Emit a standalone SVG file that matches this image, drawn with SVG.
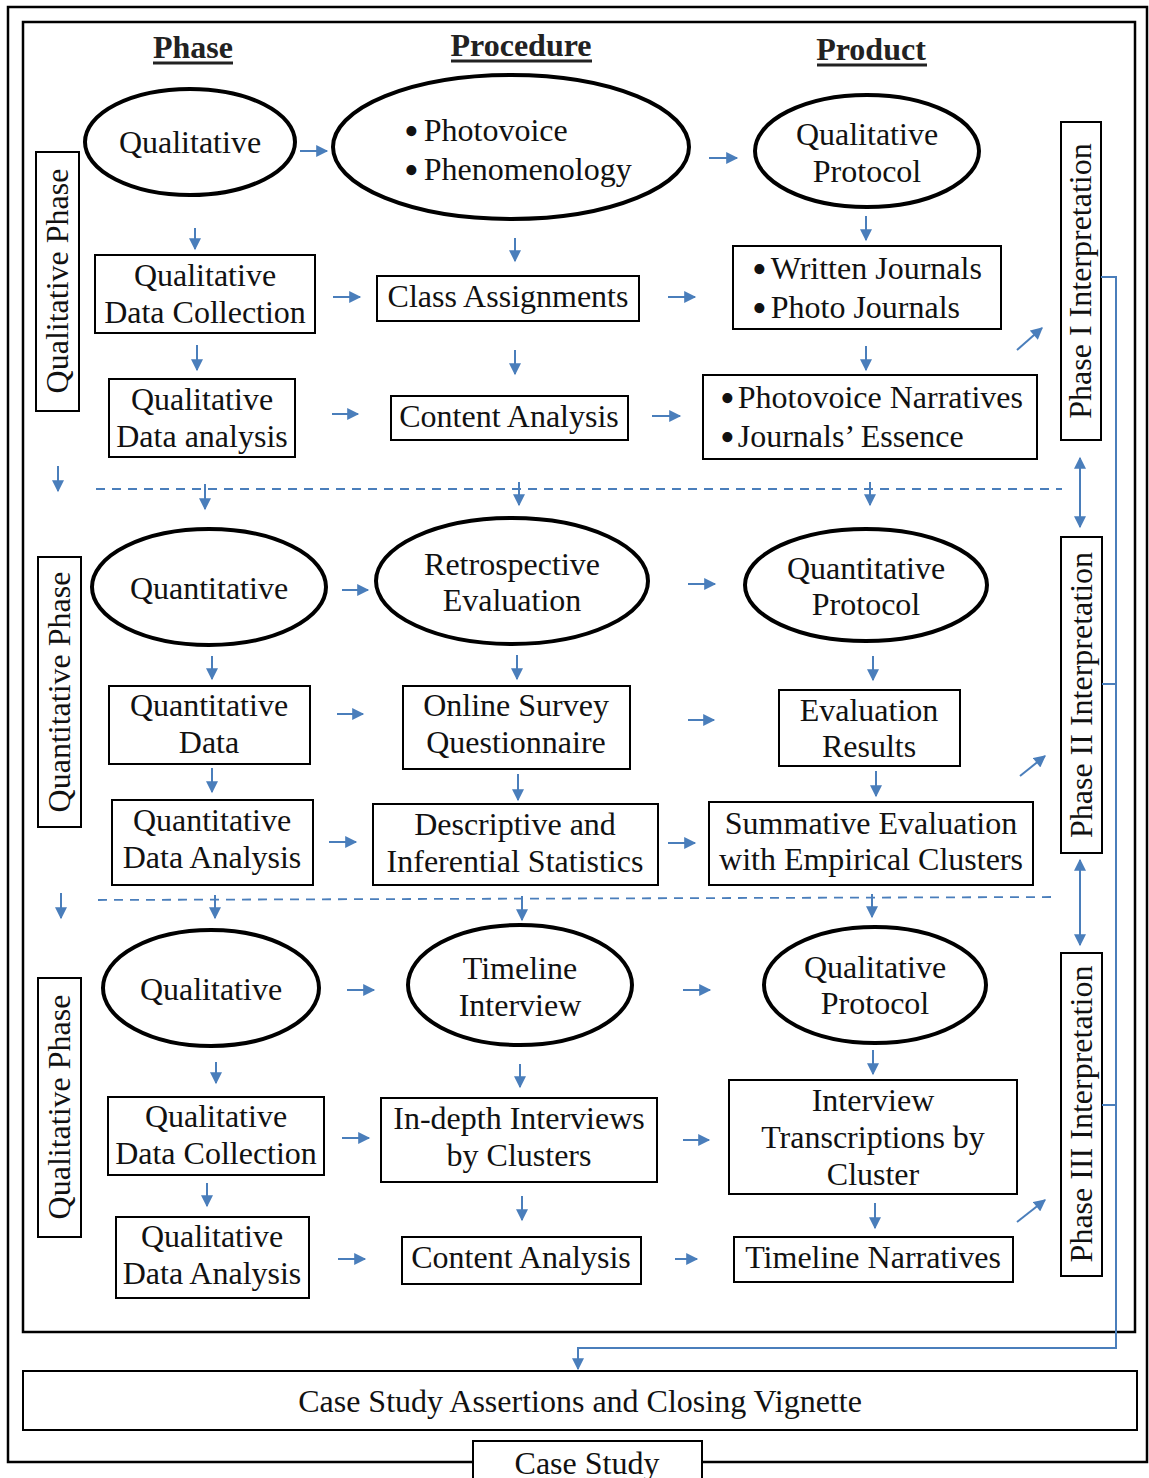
<svg xmlns="http://www.w3.org/2000/svg" width="1149" height="1478" viewBox="0 0 1149 1478">
  <style>
    text { font-family: "Liberation Serif", "Times New Roman", serif; font-size: 32px; fill: #111; }
    .c { text-anchor: middle; }
    .h { font-weight: bold; fill: #222; }
    .b { font-size: 42px; }
    .ell { fill: none; stroke: #000; stroke-width: 4; }
    .box { fill: none; stroke: #000; stroke-width: 2; }
    .frame { fill: none; stroke: #000; stroke-width: 2.5; }
    .a { stroke: #4a7ebb; stroke-width: 2; fill: none; marker-end: url(#ah); }
    .d { stroke: #4a7ebb; stroke-width: 2; fill: none; marker-start: url(#ah); marker-end: url(#ah); }
    .dash { stroke: #4a7ebb; stroke-width: 1.8; stroke-dasharray: 9 7; fill: none; }
    .link { stroke: #4a7ebb; stroke-width: 2; fill: none; }
    .ul { stroke: #222; stroke-width: 3; }
  </style>
  <defs>
    <marker id="ah" viewBox="0 0 10 10" refX="9" refY="5" markerWidth="13" markerHeight="12" markerUnits="userSpaceOnUse" orient="auto-start-reverse">
      <path d="M0,0 L10,5 L0,10 z" fill="#4a7ebb"/>
    </marker>
  </defs>

  <rect width="1149" height="1478" fill="#fff"/>

  <!-- outer frame with case study tab -->
  <g id="case-study-frame">
    <path class="frame" d="M473,1462 H8 V7 H1147 V1462 H702"/>
    <path class="box" d="M473,1480 V1441 H702 V1480"/>
    <text class="c" x="587" y="1474" fill="#222">Case Study</text>
  </g>

  <!-- inner frame -->
  <rect id="inner-frame" class="frame" x="23" y="22" width="1112" height="1310"/>

  <!-- column headers -->
  <g id="headers">
    <text class="c h" x="193" y="58">Phase</text>
    <line class="ul" x1="153" y1="63" x2="233" y2="63"/>
    <text class="c h" x="521" y="56">Procedure</text>
    <line class="ul" x1="451" y1="61" x2="592" y2="61"/>
    <text class="c h" x="871" y="60">Product</text>
    <line class="ul" x1="817" y1="65" x2="927" y2="65"/>
  </g>

  <!-- phase side labels -->
  <g id="label-qual-1">
    <rect class="box" x="36" y="152" width="43" height="259"/>
    <text class="c" transform="translate(68,281) rotate(-90)">Qualitative Phase</text>
  </g>
  <g id="label-quant">
    <rect class="box" x="38" y="557" width="43" height="270"/>
    <text class="c" transform="translate(70,692) rotate(-90)">Quantitative Phase</text>
  </g>
  <g id="label-qual-2">
    <rect class="box" x="38" y="978" width="43" height="259"/>
    <text class="c" transform="translate(70,1107) rotate(-90)">Qualitative Phase</text>
  </g>

  <!-- interpretation labels -->
  <g id="interp-1">
    <rect class="box" x="1061" y="122" width="40" height="318"/>
    <text class="c" transform="translate(1091,281) rotate(-90)">Phase I Interpretation</text>
  </g>
  <g id="interp-2">
    <rect class="box" x="1061" y="537" width="41" height="316"/>
    <text class="c" transform="translate(1092,695) rotate(-90)">Phase II Interpretation</text>
  </g>
  <g id="interp-3">
    <rect class="box" x="1061" y="953" width="41" height="323"/>
    <text class="c" transform="translate(1092,1114) rotate(-90)">Phase III Interpretation</text>
  </g>

  <!-- section 1: qualitative -->
  <g id="n-qual-1">
    <ellipse class="ell" cx="190" cy="142" rx="105" ry="53"/>
    <text class="c" x="190" y="153">Qualitative</text>
  </g>
  <g id="n-photovoice">
    <ellipse class="ell" cx="511" cy="147" rx="178" ry="72"/>
    <text x="404" y="141"><tspan class="b" dy="4">•</tspan><tspan dx="5" dy="-4">Photovoice</tspan></text>
    <text x="404" y="180"><tspan class="b" dy="4">•</tspan><tspan dx="5" dy="-4">Phenomenology</tspan></text>
  </g>
  <g id="n-qual-protocol-1">
    <ellipse class="ell" cx="867" cy="151" rx="112" ry="56"/>
    <text class="c" x="867" y="145">Qualitative</text>
    <text class="c" x="867" y="182">Protocol</text>
  </g>
  <g id="n-qual-collect-1">
    <rect class="box" x="95" y="255" width="220" height="78"/>
    <text class="c" x="205" y="286">Qualitative</text>
    <text class="c" x="205" y="323">Data Collection</text>
  </g>
  <g id="n-class-assign">
    <rect class="box" x="377" y="276" width="262" height="45"/>
    <text class="c" x="508" y="307">Class Assignments</text>
  </g>
  <g id="n-journals">
    <rect class="box" x="733" y="246" width="268" height="83"/>
    <text x="752" y="279"><tspan class="b" dy="4">•</tspan><tspan dx="4" dy="-4">Written Journals</tspan></text>
    <text x="752" y="318"><tspan class="b" dy="4">•</tspan><tspan dx="4" dy="-4">Photo Journals</tspan></text>
  </g>
  <g id="n-qual-analysis-1">
    <rect class="box" x="109" y="379" width="186" height="78"/>
    <text class="c" x="202" y="410">Qualitative</text>
    <text class="c" x="202" y="447">Data analysis</text>
  </g>
  <g id="n-content-1">
    <rect class="box" x="391" y="396" width="237" height="44"/>
    <text class="c" x="509" y="427">Content Analysis</text>
  </g>
  <g id="n-narratives-1">
    <rect class="box" x="703" y="375" width="334" height="84"/>
    <text x="720" y="408"><tspan class="b" dy="4">•</tspan><tspan dx="3" dy="-4">Photovoice Narratives</tspan></text>
    <text x="720" y="447"><tspan class="b" dy="4">•</tspan><tspan dx="3" dy="-4">Journals’ Essence</tspan></text>
  </g>

  <!-- section 2: quantitative -->
  <g id="n-quant">
    <ellipse class="ell" cx="209" cy="587" rx="117" ry="58"/>
    <text class="c" x="209" y="599">Quantitative</text>
  </g>
  <g id="n-retro">
    <ellipse class="ell" cx="512" cy="581" rx="136" ry="63"/>
    <text class="c" x="512" y="575">Retrospective</text>
    <text class="c" x="512" y="611">Evaluation</text>
  </g>
  <g id="n-quant-protocol">
    <ellipse class="ell" cx="866" cy="585" rx="121" ry="56"/>
    <text class="c" x="866" y="579">Quantitative</text>
    <text class="c" x="866" y="615">Protocol</text>
  </g>
  <g id="n-quant-data">
    <rect class="box" x="109" y="686" width="201" height="78"/>
    <text class="c" x="209" y="716">Quantitative</text>
    <text class="c" x="209" y="753">Data</text>
  </g>
  <g id="n-survey">
    <rect class="box" x="403" y="686" width="227" height="83"/>
    <text class="c" x="516" y="716">Online Survey</text>
    <text class="c" x="516" y="753">Questionnaire</text>
  </g>
  <g id="n-eval-results">
    <rect class="box" x="779" y="690" width="181" height="76"/>
    <text class="c" x="869" y="721">Evaluation</text>
    <text class="c" x="869" y="757">Results</text>
  </g>
  <g id="n-quant-analysis">
    <rect class="box" x="112" y="800" width="201" height="85"/>
    <text class="c" x="212" y="831">Quantitative</text>
    <text class="c" x="212" y="868">Data Analysis</text>
  </g>
  <g id="n-stats">
    <rect class="box" x="373" y="804" width="285" height="81"/>
    <text class="c" x="515" y="835">Descriptive and</text>
    <text class="c" x="515" y="872">Inferential Statistics</text>
  </g>
  <g id="n-summative">
    <rect class="box" x="709" y="802" width="324" height="83"/>
    <text class="c" x="871" y="834">Summative Evaluation</text>
    <text class="c" x="871" y="870">with Empirical Clusters</text>
  </g>

  <!-- section 3: qualitative -->
  <g id="n-qual-2">
    <ellipse class="ell" cx="211" cy="988" rx="108" ry="58"/>
    <text class="c" x="211" y="1000">Qualitative</text>
  </g>
  <g id="n-timeline-interview">
    <ellipse class="ell" cx="520" cy="985" rx="112" ry="60"/>
    <text class="c" x="520" y="979">Timeline</text>
    <text class="c" x="520" y="1016">Interview</text>
  </g>
  <g id="n-qual-protocol-2">
    <ellipse class="ell" cx="875" cy="985" rx="111" ry="58"/>
    <text class="c" x="875" y="978">Qualitative</text>
    <text class="c" x="875" y="1014">Protocol</text>
  </g>
  <g id="n-qual-collect-2">
    <rect class="box" x="108" y="1097" width="216" height="78"/>
    <text class="c" x="216" y="1127">Qualitative</text>
    <text class="c" x="216" y="1164">Data Collection</text>
  </g>
  <g id="n-indepth">
    <rect class="box" x="381" y="1098" width="276" height="84"/>
    <text class="c" x="519" y="1129">In-depth Interviews</text>
    <text class="c" x="519" y="1166">by Clusters</text>
  </g>
  <g id="n-transcriptions">
    <rect class="box" x="729" y="1080" width="288" height="114"/>
    <text class="c" x="873" y="1111">Interview</text>
    <text class="c" x="873" y="1148">Transcriptions by</text>
    <text class="c" x="873" y="1185">Cluster</text>
  </g>
  <g id="n-qual-analysis-2">
    <rect class="box" x="116" y="1217" width="193" height="81"/>
    <text class="c" x="212" y="1247">Qualitative</text>
    <text class="c" x="212" y="1284">Data Analysis</text>
  </g>
  <g id="n-content-2">
    <rect class="box" x="402" y="1237" width="239" height="47"/>
    <text class="c" x="521" y="1268">Content Analysis</text>
  </g>
  <g id="n-timeline-narratives">
    <rect class="box" x="734" y="1237" width="279" height="45"/>
    <text class="c" x="873" y="1268">Timeline Narratives</text>
  </g>

  <!-- closing box -->
  <g id="n-assertions">
    <rect class="box" x="23" y="1371" width="1114" height="59"/>
    <text class="c" x="580" y="1412" fill="#333">Case Study Assertions and Closing Vignette</text>
  </g>

  <!-- connectors -->
  <g id="connectors">
    <!-- section dividers -->
    <line class="dash" x1="96" y1="489" x2="1062" y2="489"/>
    <line class="dash" x1="98" y1="900" x2="1057" y2="897"/>

    <!-- horizontal flow -->
    <line class="a" x1="300" y1="151" x2="327" y2="151"/>
    <line class="a" x1="709" y1="158" x2="737" y2="158"/>
    <line class="a" x1="333" y1="297" x2="360" y2="297"/>
    <line class="a" x1="668" y1="297" x2="695" y2="297"/>
    <line class="a" x1="332" y1="414" x2="358" y2="414"/>
    <line class="a" x1="652" y1="416" x2="680" y2="416"/>
    <line class="a" x1="342" y1="590" x2="368" y2="590"/>
    <line class="a" x1="688" y1="584" x2="715" y2="584"/>
    <line class="a" x1="337" y1="714" x2="363" y2="714"/>
    <line class="a" x1="688" y1="720" x2="714" y2="720"/>
    <line class="a" x1="329" y1="842" x2="356" y2="842"/>
    <line class="a" x1="668" y1="843" x2="695" y2="843"/>
    <line class="a" x1="347" y1="990" x2="374" y2="990"/>
    <line class="a" x1="683" y1="990" x2="710" y2="990"/>
    <line class="a" x1="342" y1="1138" x2="369" y2="1138"/>
    <line class="a" x1="683" y1="1140" x2="709" y2="1140"/>
    <line class="a" x1="338" y1="1259" x2="365" y2="1259"/>
    <line class="a" x1="675" y1="1259" x2="697" y2="1259"/>

    <!-- vertical flow -->
    <line class="a" x1="195" y1="228" x2="195" y2="249"/>
    <line class="a" x1="515" y1="238" x2="515" y2="261"/>
    <line class="a" x1="866" y1="216" x2="866" y2="240"/>
    <line class="a" x1="197" y1="345" x2="197" y2="370"/>
    <line class="a" x1="515" y1="350" x2="515" y2="374"/>
    <line class="a" x1="866" y1="346" x2="866" y2="370"/>
    <line class="a" x1="58" y1="466" x2="58" y2="491"/>
    <line class="a" x1="205" y1="484" x2="205" y2="509"/>
    <line class="a" x1="519" y1="482" x2="519" y2="505"/>
    <line class="a" x1="870" y1="482" x2="870" y2="505"/>
    <line class="a" x1="212" y1="656" x2="212" y2="679"/>
    <line class="a" x1="517" y1="655" x2="517" y2="679"/>
    <line class="a" x1="873" y1="656" x2="873" y2="680"/>
    <line class="a" x1="212" y1="768" x2="212" y2="792"/>
    <line class="a" x1="518" y1="774" x2="518" y2="800"/>
    <line class="a" x1="876" y1="771" x2="876" y2="796"/>
    <line class="a" x1="61" y1="893" x2="61" y2="918"/>
    <line class="a" x1="215" y1="895" x2="215" y2="918"/>
    <line class="a" x1="522" y1="896" x2="522" y2="920"/>
    <line class="a" x1="872" y1="894" x2="872" y2="917"/>
    <line class="a" x1="216" y1="1062" x2="216" y2="1083"/>
    <line class="a" x1="520" y1="1064" x2="520" y2="1087"/>
    <line class="a" x1="873" y1="1050" x2="873" y2="1074"/>
    <line class="a" x1="207" y1="1183" x2="207" y2="1206"/>
    <line class="a" x1="522" y1="1196" x2="522" y2="1220"/>
    <line class="a" x1="875" y1="1203" x2="875" y2="1228"/>

    <!-- products to interpretation -->
    <line class="a" x1="1017" y1="350" x2="1042" y2="328"/>
    <line class="a" x1="1020" y1="776" x2="1045" y2="756"/>
    <line class="a" x1="1017" y1="1222" x2="1045" y2="1200"/>

    <!-- between interpretations -->
    <line class="d" x1="1080" y1="458" x2="1080" y2="527"/>
    <line class="d" x1="1080" y1="860" x2="1080" y2="945"/>

    <!-- interpretations to assertions -->
    <path class="link" d="M1101,277 H1116 V1348 H578 V1360"/>
    <line class="a" x1="578" y1="1356" x2="578" y2="1369"/>
    <path class="link" d="M1102,684 H1116"/>
    <path class="link" d="M1102,1105 H1116"/>
  </g>
</svg>
